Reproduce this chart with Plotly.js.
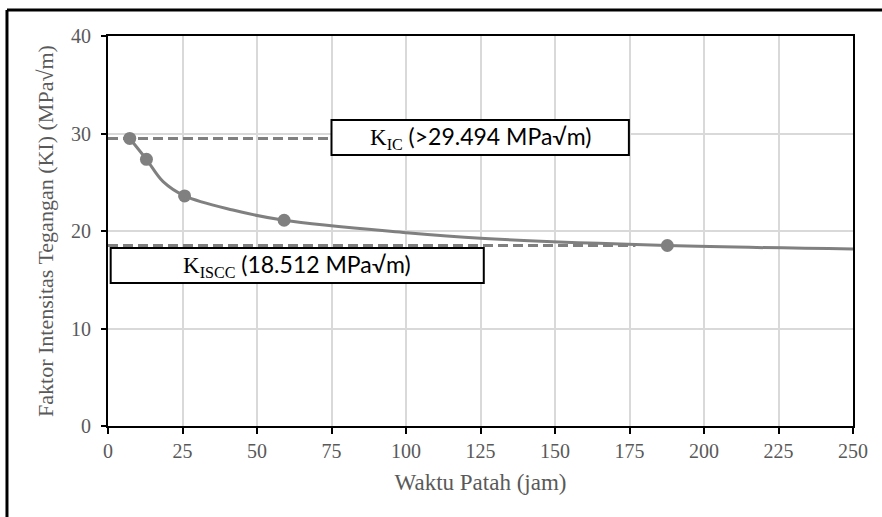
<!DOCTYPE html>
<html>
<head>
<meta charset="utf-8">
<script src="https://cdn.plot.ly/plotly-3.0.1.min.js"></script>
<style>html,body{margin:0;padding:0;background:#fff;}#chart{width:882px;height:517px;}</style>
</head>
<body>
<div id="chart"></div>
<script>
// Measured points
const waktuPatah = [7.3, 12.9, 25.7, 59.1, 187.7];
const faktorKI = [29.494, 27.35, 23.6, 21.1, 18.512];
// Smooth trend curve
const curveX = [7.3, 12.9, 18.5, 25.7, 41.9, 59.1, 100, 125, 187.7, 250];
const curveY = [29.494, 27.35, 25.06, 23.6, 22.15, 21.1, 19.83, 19.25, 18.512, 18.15];
// Reference levels
const kicValue = 29.494;
const kiccEnd = 75;
const kisccValue = 18.512;
const kisccEnd = 177;
const xTicks = [0, 25, 50, 75, 100, 125, 150, 175, 200, 225, 250];
const yTicks = [0, 10, 20, 30, 40];

const gray = '#808080';
const serif = 'Liberation Serif, Times New Roman, serif';

const traces = [
  {x: [0, kiccEnd], y: [kicValue, kicValue], mode: 'lines', line: {color: gray, width: 3, dash: '10px,5px'}, hoverinfo: 'skip'},
  {x: [0, kisccEnd], y: [kisccValue, kisccValue], mode: 'lines', line: {color: gray, width: 3, dash: '10px,5px'}, hoverinfo: 'skip'},
  {x: curveX, y: curveY, mode: 'lines', line: {color: gray, width: 3, shape: 'spline', smoothing: 1}, hoverinfo: 'skip'},
  {x: waktuPatah, y: faktorKI, mode: 'markers', marker: {color: gray, size: 13}}
];

const layout = {
  width: 882, height: 517,
  margin: {l: 108, r: 29, t: 36, b: 91},
  paper_bgcolor: '#fff', plot_bgcolor: '#fff',
  showlegend: false,
  font: {family: serif, color: '#595959'},
  xaxis: {
    range: [0, 250], tickvals: xTicks, ticktext: xTicks.map(String),
    showgrid: true, gridcolor: '#d9d9d9', gridwidth: 2,
    showline: true, linecolor: '#000', linewidth: 2, mirror: true,
    ticks: 'outside', ticklen: 6, tickwidth: 2, tickcolor: '#000',
    tickfont: {family: serif, size: 20, color: '#595959'},
    zeroline: false,
    title: {text: 'Waktu Patah (jam)', font: {family: serif, size: 23, color: '#595959'}, standoff: 13}
  },
  yaxis: {
    range: [0, 40], tickvals: yTicks, ticktext: yTicks.map(String),
    showgrid: true, gridcolor: '#d9d9d9', gridwidth: 2,
    showline: true, linecolor: '#000', linewidth: 2, mirror: true,
    ticks: 'outside', ticklen: 5, tickwidth: 2, tickcolor: '#000',
    tickfont: {family: serif, size: 20, color: '#595959'},
    ticklabelstandoff: 6,
    zeroline: false,
    title: {text: 'Faktor Intensitas Tegangan (KI) (MPa√m)', font: {family: serif, size: 22, color: '#595959'}, standoff: 11}
  },
  shapes: [
    {type: 'rect', xref: 'x', yref: 'y', x0: 75, x1: 174.8, y0: 27.8, y1: 31.38, line: {color: '#000', width: 2}, fillcolor: '#fff', layer: 'above'},
    {type: 'rect', xref: 'x', yref: 'y', x0: 0.9, x1: 126.1, y0: 14.67, y1: 18.26, line: {color: '#000', width: 2}, fillcolor: '#fff', layer: 'above'},
    {type: 'line', xref: 'paper', yref: 'paper', x0: -0.1356, x1: 1.2, y0: 1.0667, y1: 1.0667, line: {color: '#000', width: 3}},
    {type: 'line', xref: 'paper', yref: 'paper', x0: -0.1356, x1: -0.1356, y0: 1.0667, y1: -0.4, line: {color: '#000', width: 3}}
  ],
  annotations: [
    {xref: 'x', yref: 'y', x: 124.9, y: 29.59, showarrow: false,
     text: '<span style="font-family:Liberation Serif">K<sub>IC</sub></span> (&gt;29.494 MPa√m)',
     font: {family: 'Lato, Open Sans, sans-serif', size: 23, color: '#000'}},
    {xref: 'x', yref: 'y', x: 63.5, y: 16.47, showarrow: false,
     text: '<span style="font-family:Liberation Serif">K<sub>ISCC</sub></span> (18.512 MPa√m)',
     font: {family: 'Lato, Open Sans, sans-serif', size: 23, color: '#000'}}
  ]
};

Plotly.newPlot('chart', traces, layout, {displayModeBar: false, staticPlot: true});
</script>
</body>
</html>
